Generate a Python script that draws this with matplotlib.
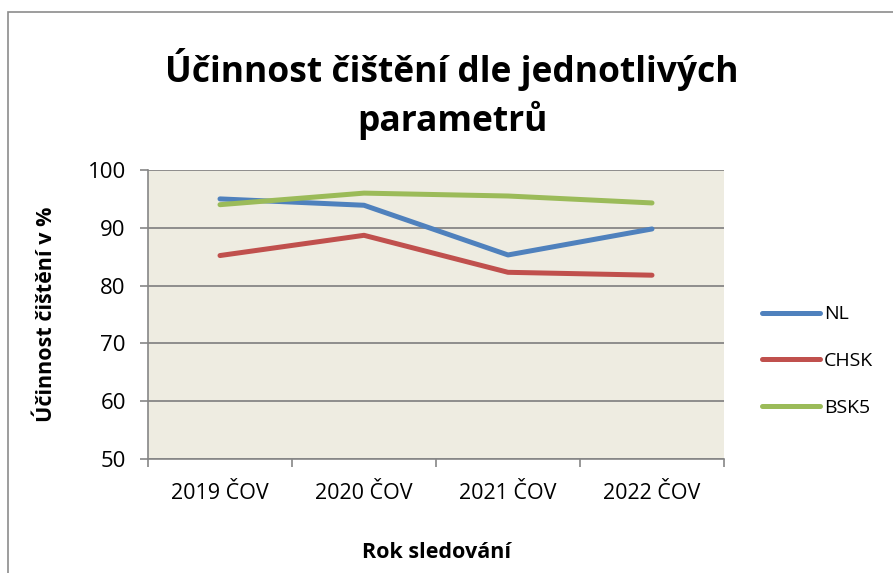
import matplotlib.pyplot as plt
from matplotlib.patches import Rectangle
from matplotlib.ticker import FixedLocator

years = ["2019 ČOV", "2020 ČOV", "2021 ČOV", "2022 ČOV"]
nl = [95.0, 93.9, 85.3, 89.8]
chsk = [85.2, 88.7, 82.3, 81.8]
bsk5 = [94.0, 96.0, 95.5, 94.3]

series = [("NL", nl, "#4F81BD"), ("CHSK", chsk, "#C0504D"), ("BSK5", bsk5, "#9BBB59")]

plt.rcParams["font.family"] = ["Open Sans", "DejaVu Sans"]

fig = plt.figure(figsize=(8.93, 5.73), dpi=100)
fig.patches.append(Rectangle((8 / 893, -0.1), 1.2, 1 - 12 / 573 + 0.1, transform=fig.transFigure,
                             fill=False, edgecolor="#8c8c8c", linewidth=1.2))

ax = fig.add_axes([148 / 893, 1 - 459 / 573, (724 - 148) / 893, (459 - 170) / 573])
ax.set_facecolor("#EEECE1")

x = list(range(len(years)))
for name, vals, color in series:
    ax.plot(x, vals, color=color, linewidth=3.6, solid_capstyle="round", label=name)

ax.set_xlim(-0.5, len(years) - 0.5)
ax.set_ylim(50, 100)
ax.set_yticks(range(50, 101, 10))
ax.set_xticks(x)
ax.set_xticklabels(years, fontsize=15.5)
ax.xaxis.set_minor_locator(FixedLocator([i - 0.5 for i in range(len(years) + 1)]))
ax.tick_params(axis="x", which="major", length=0, pad=17)
ax.tick_params(axis="x", which="minor", length=6, color="#868686", width=1.2)
ax.tick_params(axis="y", length=6, color="#868686", width=1.2, labelsize=16, pad=10)
ax.grid(axis="y", color="#868686", linewidth=1.3)
ax.set_axisbelow(True)
for side in ("top", "right"):
    ax.spines[side].set_visible(False)
for side in ("left", "bottom"):
    ax.spines[side].set_color("#868686")
    ax.spines[side].set_linewidth(1.2)

ax.set_ylabel("Účinnost čištění v %", fontsize=15.5, fontweight="bold", labelpad=22)
fig.text(437 / 893, 1 - 553 / 573, "Rok sledování", ha="center", va="center",
         fontsize=15.5, fontweight="bold")
fig.text(452 / 893, 1 - 94 / 573, "Účinnost čištění dle jednotlivých\nparametrů",
         ha="center", va="center", fontsize=25.5, fontweight="bold", linespacing=1.3)

ax.legend(loc="center left", bbox_to_anchor=((762 - 148) / 576, 0.339), frameon=False,
          fontsize=14, handlelength=3.0, labelspacing=1.47, handletextpad=0.2,
          borderpad=0, borderaxespad=0)

fig.savefig("out.png")
